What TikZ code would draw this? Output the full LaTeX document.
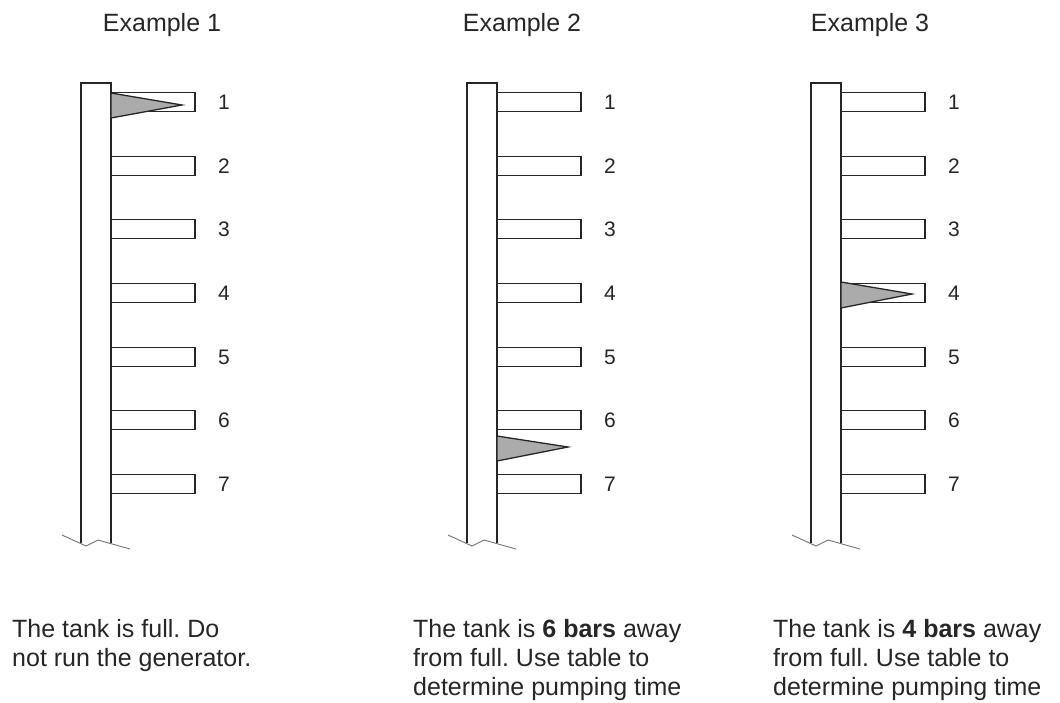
\documentclass[tikz,border=0pt]{standalone}
\usepackage{fontspec}
\setmainfont{Liberation Sans}
\frenchspacing
\begin{document}
\begin{tikzpicture}[x=1pt,y=-1pt,
  ln/.style={line width=1.3pt, draw=black!85},
  bar/.style={ln, fill=white},
  flag/.style={ln, fill=black!33, line join=miter},
  brk/.style={line width=0.9pt, draw=black!55},
  num/.style={font=\fontsize{21}{24}\selectfont, text=black!85},
  ttl/.style={font=\fontsize{25}{29}\selectfont, anchor=base, text=black!85},
  captxt/.style={font=\fontsize{25}{29}\selectfont, align=left, anchor=north west, inner sep=0pt, text=black!85}]
\useasboundingbox (0,0) rectangle (1060,702);

\foreach \L/\n in {81/a,467/b,811/c}{
  \pgfmathsetmacro\R{\L+30}
  \draw[ln] (\L,543) -- (\L,83) -- (\R,83) -- (\R,543);
  \draw[brk] (\L-19,535) -- (\L+5,546) -- (\L+17,540) -- (\L+49,549);
  \foreach \i in {1,...,7}{
    \pgfmathsetmacro\yc{round(102+63.7*(\i-1))}
    \draw[bar] (\R,\yc-9.5) rectangle (\R+84,\yc+9.5);
    \node[num] (\n\i) at (\R+113,\yc) {\i};
  }
}

\draw[flag] (111,93) -- (182,105) -- (111,118) -- cycle;
\draw[flag] (497,436) -- (568,447) -- (497,461) -- cycle;
\draw[flag] (841,282) -- (912,294) -- (841,308) -- cycle;

\node[ttl] (t1) at (162,31) {Example 1};
\node[ttl] (t2) at (522,31) {Example 2};
\node[ttl] (t3) at (870,31) {Example 3};

\node[captxt] (c1) at (12,619) {The tank is full. Do\\not run the generator.};
\node[captxt] (c2) at (413,619) {The tank is \textbf{6 bars} away\\from full. Use table to\\determine pumping time};
\node[captxt] (c3) at (773,619) {The tank is \textbf{4 bars} away\\from full. Use table to\\determine pumping time};
\end{tikzpicture}
\end{document}
